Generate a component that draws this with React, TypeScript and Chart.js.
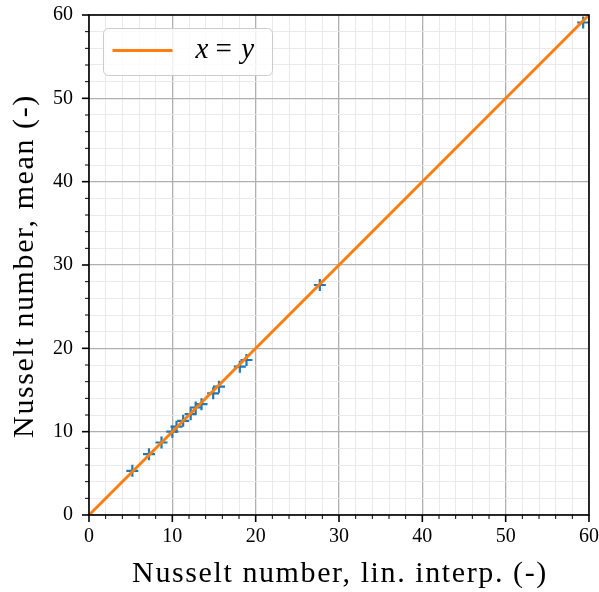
import React, { useEffect, useRef } from 'react';
import { Chart, registerables } from 'chart.js';

Chart.register(...registerables);

const xInterp = [5.2, 7.2, 8.7, 10.0, 10.5, 11.3, 12.2, 12.8, 13.5, 14.9, 15.6, 18.1, 18.9, 27.7, 59.3];
const yMean = [5.3, 7.3, 8.7, 10.0, 10.6, 11.3, 12.1, 12.9, 13.3, 14.6, 15.4, 17.8, 18.6, 27.6, 59.1];
const identityLine = [0, 60];
const legendParts = ['x', ' = ', 'y'];
const xTitle = 'Nusselt number, lin. interp. (-)';
const yTitle = 'Nusselt number, mean (-)';
const axisMin = 0;
const axisMax = 60;
const minorStep = 2;
const majorStep = 10;

const SERIF = '"Liberation Serif", "DejaVu Serif", serif';
const BLUE = '#1f77b4';
const ORANGE = '#ff7f0e';

const isMajor = (v: number) => Math.abs(v % majorStep) < 1e-9;

const framePlugin = {
  id: 'frame',
  afterDraw(chart: any) {
    const { ctx, chartArea: a, scales } = chart;
    const xs = scales.x;
    const ys = scales.y;
    ctx.save();
    ctx.strokeStyle = '#000';
    for (const t of xs.ticks) {
      const px = xs.getPixelForValue(t.value);
      const maj = isMajor(t.value);
      ctx.beginPath();
      ctx.lineWidth = maj ? 1.6 : 1;
      ctx.moveTo(px, a.bottom);
      ctx.lineTo(px, a.bottom + (maj ? 7 : 4));
      ctx.stroke();
    }
    for (const t of ys.ticks) {
      const py = ys.getPixelForValue(t.value);
      const maj = isMajor(t.value);
      ctx.beginPath();
      ctx.lineWidth = maj ? 1.6 : 1;
      ctx.moveTo(a.left, py);
      ctx.lineTo(a.left - (maj ? 7 : 4), py);
      ctx.stroke();
    }
    ctx.lineWidth = 1.6;
    ctx.strokeRect(a.left, a.top, a.right - a.left, a.bottom - a.top);

    // axis titles
    ctx.fillStyle = '#000';
    ctx.font = '30px ' + SERIF;
    (ctx as any).letterSpacing = '1.6px';
    ctx.textAlign = 'center';
    ctx.textBaseline = 'alphabetic';
    ctx.fillText(xTitle, (a.left + a.right) / 2 + 1, 582);
    ctx.save();
    ctx.translate(33, (a.top + a.bottom) / 2 + 1);
    ctx.rotate(-Math.PI / 2);
    ctx.fillText(yTitle, 0, 0);
    ctx.restore();

    // legend
    const bx = a.left + 14.5;
    const by = a.top + 13.5;
    const bw = 169;
    const bh = 47;
    ctx.beginPath();
    ctx.roundRect(bx, by, bw, bh, 5);
    ctx.fillStyle = 'rgba(255,255,255,0.8)';
    ctx.fill();
    ctx.lineWidth = 1;
    ctx.strokeStyle = '#cccccc';
    ctx.stroke();
    const ly = by + 22;
    ctx.beginPath();
    ctx.strokeStyle = ORANGE;
    ctx.lineWidth = 3;
    ctx.moveTo(bx + 9, ly);
    ctx.lineTo(bx + 69, ly);
    ctx.stroke();
    ctx.fillStyle = '#000';
    ctx.textAlign = 'left';
    ctx.textBaseline = 'middle';
    (ctx as any).letterSpacing = '0px';
    let tx = bx + 92;
    legendParts.forEach((p, i) => {
      ctx.font = (i % 2 === 0 ? 'italic ' : '') + '29px ' + SERIF;
      const w = ctx.measureText(p).width;
      ctx.fillText(p, tx, ly);
      tx += w + (i === 1 ? 2 : 0);
    });
    ctx.restore();
  },
};

export default function App() {
  const ref = useRef<HTMLCanvasElement | null>(null);

  useEffect(() => {
    if (!ref.current) return;
    const scatterData = xInterp.map((x, i) => ({ x, y: yMean[i] }));
    const lineData = identityLine.map((v) => ({ x: v, y: v }));
    const tickFont = { family: SERIF, size: 20 };
    const gridCfg = {
      color: (c: any) => (c.tick && isMajor(c.tick.value) ? '#b0b0b0' : '#e8e8e8'),
      lineWidth: (c: any) => (c.tick && isMajor(c.tick.value) ? 1.3 : 0.9),
      tickLength: 7,
      tickColor: 'rgba(0,0,0,0)',
      drawTicks: true,
    };
    const chart = new Chart(ref.current, {
      type: 'scatter',
      data: {
        datasets: [
          {
            label: 'x = y',
            type: 'line',
            data: lineData,
            borderColor: ORANGE,
            backgroundColor: ORANGE,
            borderWidth: 3,
            pointRadius: 0,
            showLine: true,
            fill: false,
            order: 0,
          } as any,
          {
            label: 'data',
            data: scatterData,
            pointStyle: 'cross',
            pointRadius: 6,
            pointHoverRadius: 6,
            borderColor: BLUE,
            backgroundColor: BLUE,
            pointBorderWidth: 2.2,
            order: 1,
          } as any,
        ],
      },
      options: {
        responsive: false,
        animation: false,
        devicePixelRatio: 1,
        layout: { padding: { top: 15, right: 10, left: 0, bottom: 0 } },
        plugins: { legend: { display: false }, tooltip: { enabled: false } },
        scales: {
          x: {
            type: 'linear',
            min: axisMin,
            max: axisMax,
            border: { display: false },
            grid: gridCfg as any,
            ticks: {
              stepSize: minorStep,
              autoSkip: false,
              maxRotation: 0,
              padding: 3,
              color: '#000',
              font: tickFont,
              callback: (v: any) => (isMajor(Number(v)) ? String(v) : ''),
            },
            title: { display: false },
            afterFit: (s: any) => {
              s.height = 77;
              s.paddingLeft = 0;
              s.paddingRight = 0;
            },
          },
          y: {
            type: 'linear',
            min: axisMin,
            max: axisMax,
            border: { display: false },
            grid: gridCfg as any,
            ticks: {
              stepSize: minorStep,
              autoSkip: false,
              padding: 9,
              color: '#000',
              font: tickFont,
              callback: (v: any) => (isMajor(Number(v)) ? String(v) : ''),
            },
            title: { display: false },
            afterFit: (s: any) => {
              s.width = 89;
              s.paddingTop = 0;
              s.paddingBottom = 0;
            },
          },
        },
      },
      plugins: [framePlugin],
    });
    return () => chart.destroy();
  }, []);

  return (
    <div style={{ position: 'absolute', left: 0, top: 0, width: 599, height: 592, background: '#fff' }}>
      <canvas ref={ref} width={599} height={592} style={{ width: 599, height: 592, display: 'block' }} />
    </div>
  );
}
